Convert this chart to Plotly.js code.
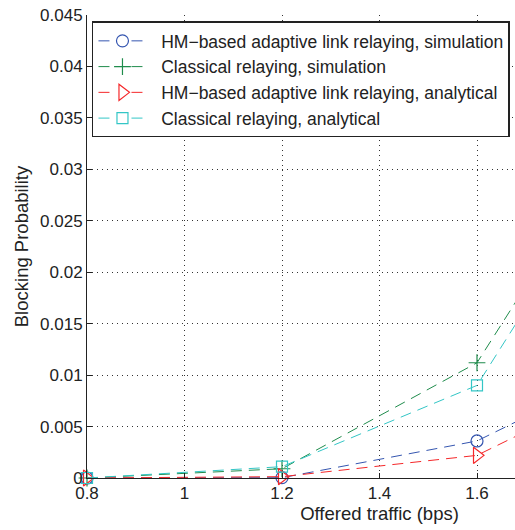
<!DOCTYPE html>
<html>
<head>
<meta charset="utf-8">
<script src="https://cdn.plot.ly/plotly-3.0.1.min.js"></script>
<style>
html,body{margin:0;padding:0;overflow:hidden;background:#fff;width:515px;height:530px;}
#chart{width:700px;height:530px;}
</style>
</head>
<body>
<div id="chart"></div>
<script>
// Data
var offeredTraffic = [0.8, 1.2, 1.6, 2.0];
var hmSimulation = [0, 0.00003, 0.0036, 0.0129];
var classicalSimulation = [0, 0.0009, 0.0112, 0.041];
var hmAnalytical = [0, 0.00013, 0.0022, 0.0115];
var classicalAnalytical = [0, 0.0011, 0.0090, 0.039];

var xTickValues = [0.8, 1, 1.2, 1.4, 1.6];
var xTickLabels = ["0.8", "1", "1.2", "1.4", "1.6"];
var yTickValues = [0, 0.005, 0.01, 0.015, 0.02, 0.025, 0.03, 0.035, 0.04, 0.045];
var yTickLabels = ["0", "0.005", "0.01", "0.015", "0.02", "0.025", "0.03", "0.035", "0.04", "0.045"];

var seriesNames = [
  "HM\u2212based adaptive link relaying, simulation",
  "Classical relaying, simulation",
  "HM\u2212based adaptive link relaying, analytical",
  "Classical relaying, analytical"
];
var seriesValues = [hmSimulation, classicalSimulation, hmAnalytical, classicalAnalytical];
var seriesColors = ["#3556b0", "#1f8c4c", "#f5282a", "#33c6c6"];
var seriesSymbols = ["circle-open", "cross-thin-open", "triangle-right-open", "square-open"];
var seriesSizes = [12, 12, 14, 11];

var traces = [];
for (var i = 0; i < seriesNames.length; i++) {
  traces.push({
    x: offeredTraffic, y: seriesValues[i], type: "scatter", mode: "lines+markers",
    name: seriesNames[i], showlegend: false, cliponaxis: false,
    line: {color: seriesColors[i], width: 1, dash: "11px,7px"},
    marker: {symbol: seriesSymbols[i], size: seriesSizes[i], color: seriesColors[i], line: {color: seriesColors[i], width: 1.2}}
  });
}
for (var j = 0; j < seriesNames.length; j++) {
  traces.push({
    x: [null], y: [null], type: "scatter", mode: "lines+markers",
    name: "\u00a0\u00a0" + seriesNames[j], showlegend: true,
    line: {color: seriesColors[j], width: 1, dash: "11px,22px"},
    marker: {symbol: seriesSymbols[j], size: seriesSizes[j], color: seriesColors[j], line: {color: seriesColors[j], width: 1.2}}
  });
}

var fontFam = "Liberation Sans, Arial, sans-serif";
var layout = {
  width: 700, height: 530,
  margin: {l: 87, r: 28, t: 15, b: 52},
  paper_bgcolor: "#ffffff", plot_bgcolor: "#ffffff",
  font: {family: fontFam, size: 17, color: "#222"},
  showlegend: true,
  legend: {
    x: 0.0085, y: 0.986, xanchor: "left", yanchor: "top",
    bgcolor: "#ffffff", bordercolor: "#222", borderwidth: 1.5,
    font: {family: fontFam, size: 17.5, color: "#222"},
    traceorder: "normal", itemwidth: 48
  },
  xaxis: {
    range: [0.8, 2.0], tickvals: xTickValues, ticktext: xTickLabels,
    showgrid: true, gridcolor: "#333", griddash: "1px,4px", gridwidth: 1,
    zeroline: false, showline: true, linecolor: "#222", linewidth: 1,
    ticks: "inside", ticklen: 5, tickcolor: "#222",
    tickfont: {family: fontFam, size: 17, color: "#222"},
    title: {text: "Offered traffic (bps)", font: {family: fontFam, size: 18.5, color: "#222"}, standoff: 4}
  },
  yaxis: {
    range: [0, 0.045], tickvals: yTickValues, ticktext: yTickLabels,
    showgrid: true, gridcolor: "#333", griddash: "1px,4px", gridwidth: 1,
    zeroline: false, showline: true, linecolor: "#222", linewidth: 1,
    ticks: "inside", ticklen: 5, tickcolor: "#222",
    tickfont: {family: fontFam, size: 17, color: "#222"},
    title: {text: "Blocking Probability", font: {family: fontFam, size: 18.5, color: "#222"}, standoff: 6}
  }
};

Plotly.newPlot("chart", traces, layout, {displayModeBar: false, staticPlot: true});
</script>
</body>
</html>
